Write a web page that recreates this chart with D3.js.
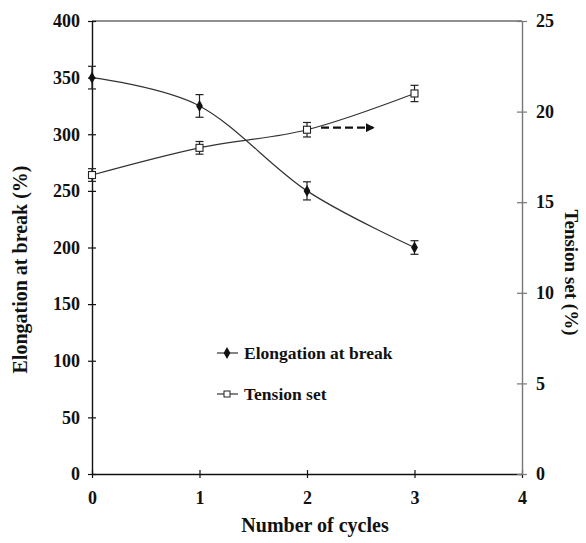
<!DOCTYPE html>
<html>
<head>
<meta charset="utf-8">
<script src="https://cdn.jsdelivr.net/npm/d3@7"></script>
<style>
  html, body { margin: 0; padding: 0; background: #fff; }
  svg { display: block; }
  text { font-family: "Liberation Serif", "Times New Roman", serif; font-weight: bold; fill: #111; }
</style>
</head>
<body>
<svg id="chart" width="586" height="543"></svg>
<script>
// Number of stretching cycles
const cycles = [0, 1, 2, 3];
// Elongation at break (%) and its error
const elongation = [350, 325, 250, 200];
const elongationErr = [10, 10, 8, 6];
// Tension set (%) and its error
const tensionSet = [16.5, 18.0, 19.0, 21.0];
const tensionErr = [0.35, 0.35, 0.4, 0.45];

const xTicks = [0, 1, 2, 3, 4];
const leftTicks = [0, 50, 100, 150, 200, 250, 300, 350, 400];
const rightTicks = [0, 5, 10, 15, 20, 25];

const svg = d3.select("#chart");
const m = { left: 92, right: 522, top: 21, bottom: 474 };

const x = d3.scaleLinear().domain([0, 4]).range([m.left, m.right]);
const yL = d3.scaleLinear().domain([0, 400]).range([m.bottom, m.top]);
const yR = d3.scaleLinear().domain([0, 25]).range([m.bottom, m.top]);

// Top frame line
svg.append("line").attr("x1", m.left).attr("x2", m.right)
  .attr("y1", m.top).attr("y2", m.top)
  .attr("stroke", "#222").attr("stroke-width", 1.2);

// Axes
const axisStyle = (g, color) => {
  g.select(".domain").attr("stroke", color).attr("stroke-width", 1.4);
  g.selectAll(".tick line").attr("stroke", color).attr("stroke-width", 1.2);
  g.selectAll(".tick text").style("font-size", "18px").attr("fill", "#111");
};

const gx = svg.append("g").attr("transform", `translate(0,${m.bottom})`)
  .call(d3.axisBottom(x).tickValues(xTicks).tickFormat(d3.format("d"))
    .tickSizeInner(0).tickSizeOuter(0).tickPadding(17));
axisStyle(gx, "#111");
gx.selectAll(".tick line").attr("y1", -4).attr("y2", 4);

const gl = svg.append("g").attr("transform", `translate(${m.left},0)`)
  .call(d3.axisLeft(yL).tickValues(leftTicks).tickFormat(d3.format("d"))
    .tickSizeOuter(0).tickSizeInner(0).tickPadding(12));
axisStyle(gl, "#111");
gl.selectAll(".tick line").attr("x1", -4).attr("x2", 4);

const gr = svg.append("g").attr("transform", `translate(${m.right},0)`)
  .call(d3.axisRight(yR).tickValues(rightTicks).tickFormat(d3.format("d"))
    .tickSizeOuter(0).tickSizeInner(0).tickPadding(14));
axisStyle(gr, "#777");
gr.selectAll(".tick line").attr("x1", -5).attr("x2", 5);

// Axis titles
svg.append("text").attr("x", 315).attr("y", 532)
  .attr("text-anchor", "middle").style("font-size", "20px").text("Number of cycles");
svg.append("text").attr("transform", `translate(27,${(m.top + m.bottom) / 2 + 22}) rotate(-90)`)
  .attr("text-anchor", "middle").style("font-size", "20px").text("Elongation at break (%)");
svg.append("text").attr("transform", `translate(565,${(m.top + m.bottom) / 2 + 25}) rotate(90)`)
  .attr("text-anchor", "middle").style("font-size", "19px").text("Tension set (%)");

const curve = d3.curveCatmullRom.alpha(0);

// Elongation series
const lineL = d3.line().x((d, i) => x(cycles[i])).y(d => yL(d)).curve(curve);
svg.append("path").datum(elongation).attr("d", lineL)
  .attr("fill", "none").attr("stroke", "#333").attr("stroke-width", 1.2);

// Tension set series
const lineR = d3.line().x((d, i) => x(cycles[i])).y(d => yR(d)).curve(curve);
svg.append("path").datum(tensionSet).attr("d", lineR)
  .attr("fill", "none").attr("stroke", "#333").attr("stroke-width", 1.2);

// Error bars
function errorBars(vals, errs, scale) {
  const g = svg.append("g").attr("stroke", "#222").attr("stroke-width", 1.2);
  vals.forEach((v, i) => {
    const cx = x(cycles[i]);
    const y1 = scale(v - errs[i]), y2 = scale(v + errs[i]);
    g.append("line").attr("x1", cx).attr("x2", cx).attr("y1", y1).attr("y2", y2);
    g.append("line").attr("x1", cx - 4).attr("x2", cx + 4).attr("y1", y1).attr("y2", y1);
    g.append("line").attr("x1", cx - 4).attr("x2", cx + 4).attr("y1", y2).attr("y2", y2);
  });
}
errorBars(elongation, elongationErr, yL);
errorBars(tensionSet, tensionErr, yR);

// Markers
const diamond = d3.symbol().type(d3.symbolDiamond).size(40);
svg.append("g").selectAll("path").data(elongation).join("path")
  .attr("d", diamond)
  .attr("transform", (d, i) => `translate(${x(cycles[i])},${yL(d)})`)
  .attr("fill", "#111");
svg.append("g").selectAll("rect").data(tensionSet).join("rect")
  .attr("x", (d, i) => x(cycles[i]) - 3.5).attr("y", d => yR(d) - 3.5)
  .attr("width", 7).attr("height", 7)
  .attr("fill", "#fff").attr("stroke", "#222").attr("stroke-width", 1.1);

// Dashed arrow pointing the tension set curve to its axis
const arrowY = yR(tensionSet[2]) - 2;
svg.append("defs").append("marker").attr("id", "head")
  .attr("viewBox", "0 0 10 10").attr("refX", 8).attr("refY", 5)
  .attr("markerWidth", 4).attr("markerHeight", 4).attr("orient", "auto")
  .append("path").attr("d", "M0,0 L10,5 L0,10 Z").attr("fill", "#111");
svg.append("line")
  .attr("x1", x(cycles[2]) + 14).attr("x2", x(cycles[2]) + 66)
  .attr("y1", arrowY).attr("y2", arrowY)
  .attr("stroke", "#111").attr("stroke-width", 2.2)
  .attr("stroke-dasharray", "8,4")
  .attr("marker-end", "url(#head)");

// Legend
const legend = [
  { label: "Elongation at break", y: 353, kind: "diamond" },
  { label: "Tension set", y: 394, kind: "square" }
];
const lg = svg.append("g");
legend.forEach(d => {
  lg.append("line").attr("x1", 217).attr("x2", 238).attr("y1", d.y).attr("y2", d.y)
    .attr("stroke", "#333").attr("stroke-width", 1.2);
  if (d.kind === "diamond") {
    lg.append("path").attr("d", diamond).attr("transform", `translate(227,${d.y})`).attr("fill", "#111");
  } else {
    lg.append("rect").attr("x", 224).attr("y", d.y - 3).attr("width", 6).attr("height", 6)
      .attr("fill", "#fff").attr("stroke", "#222");
  }
  lg.append("text").attr("x", 244).attr("y", d.y + 6).style("font-size", "17.5px").text(d.label);
});
</script>
</body>
</html>
